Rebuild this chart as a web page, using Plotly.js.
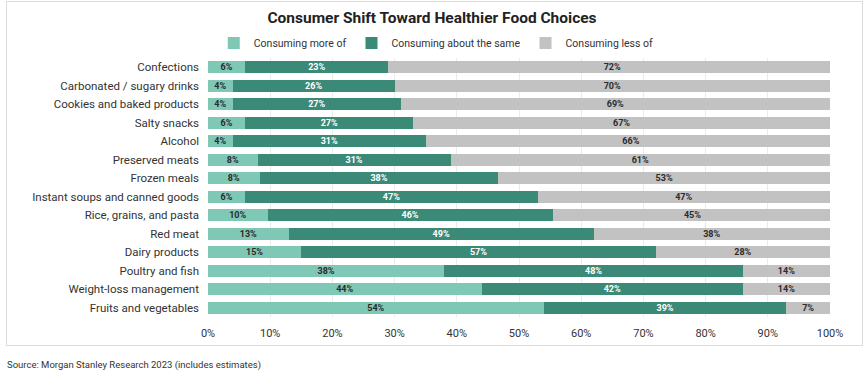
<!DOCTYPE html>
<html>
<head>
<meta charset="utf-8">
<script src="https://cdn.plot.ly/plotly-3.0.1.min.js"></script>
<style>
  html, body { margin: 0; padding: 0; background: #fff; }
  #wrap { position: relative; width: 864px; height: 376px; }
  #chart { position: absolute; left: 0; top: 0; width: 864px; height: 376px; }
  #frame { position: absolute; left: 6px; top: 1px; width: 855px; height: 343px; border: 1px solid #dcdcdc; pointer-events: none; }
</style>
</head>
<body>
<div id="wrap">
  <div id="frame"></div>
  <div id="chart"></div>
</div>
<script>
const categories = [
  "Confections",
  "Carbonated / sugary drinks",
  "Cookies and baked products",
  "Salty snacks",
  "Alcohol",
  "Preserved meats",
  "Frozen meals",
  "Instant soups and canned goods",
  "Rice, grains, and pasta",
  "Red meat",
  "Dairy products",
  "Poultry and fish",
  "Weight-loss management",
  "Fruits and vegetables"
];
const moreOf = [6, 4, 4, 6, 4, 8, 8.3, 6, 9.6, 13, 15, 38, 44, 54];
const aboutSame = [23, 26, 27, 27, 31, 31, 38.4, 47, 45.8, 49, 57, 48, 42, 39];
const lessOf = [72, 70, 69, 67, 66, 61, 53.3, 47, 45, 38, 28, 14, 14, 7];
const seriesNames = ["Consuming more of", "Consuming about the same", "Consuming less of"];
const xTicks = [0, 10, 20, 30, 40, 50, 60, 70, 80, 90, 100];

const colors = ["#80c8b6", "#3a8a77", "#c2c2c2"];
const textColors = ["#2b2b2b", "#ffffff", "#2b2b2b"];
const allSeries = [moreOf, aboutSame, lessOf];

const traces = allSeries.map((vals, i) => ({
  type: "bar",
  orientation: "h",
  name: seriesNames[i],
  y: categories,
  x: vals,
  texttemplate: "%{x:.0f}%",
  textposition: "inside",
  insidetextanchor: "middle",
  textangle: 0,
  constraintext: "none",
  insidetextfont: { family: "Roboto, sans-serif", size: 9, color: textColors[i], weight: "bold" },
  marker: { color: colors[i], line: { width: 0 } },
  hoverinfo: "skip"
}));

const layout = {
  width: 864,
  height: 376,
  barmode: "stack",
  bargap: 0.33,
  uniformtext: { mode: "show", minsize: 9 },
  paper_bgcolor: "rgba(0,0,0,0)",
  plot_bgcolor: "rgba(0,0,0,0)",
  margin: { l: 208, r: 34, t: 58, b: 59 },
  font: { family: "Roboto, sans-serif", color: "#333" },
  title: {
    text: "<b>Consumer Shift Toward Healthier Food Choices</b>",
    font: { family: "Roboto, sans-serif", size: 15.5, color: "#222" },
    x: 0.5, xref: "container", xanchor: "center",
    y: 1 - 18 / 376, yref: "container", yanchor: "middle"
  },
  showlegend: true,
  legend: {
    orientation: "h",
    x: 0.367, xanchor: "center",
    y: 1 + 15 / 259, yanchor: "middle",
    font: { family: "Roboto, sans-serif", size: 10.5, color: "#333" },
    itemwidth: 30,
    itemsizing: "constant",
    traceorder: "normal",
    bgcolor: "rgba(0,0,0,0)"
  },
  xaxis: {
    range: [0, 100],
    tickvals: xTicks,
    ticktext: xTicks.map(v => v + "%"),
    showgrid: true,
    gridcolor: "#ebebeb",
    gridwidth: 1,
    zeroline: false,
    showline: false,
    ticks: "",
    ticklabelstandoff: 8,
    tickfont: { family: "Roboto, sans-serif", size: 11, color: "#333" },
    fixedrange: true
  },
  yaxis: {
    type: "category",
    autorange: "reversed",
    showgrid: false,
    zeroline: false,
    showline: false,
    ticks: "",
    ticklabelstandoff: 8,
    tickfont: { family: "Roboto, sans-serif", size: 11.5, color: "#333" },
    fixedrange: true
  },
  annotations: [{
    text: "Source: Morgan Stanley Research 2023 (includes estimates)",
    xref: "paper", yref: "paper",
    x: (5 - 208) / 622, xanchor: "left",
    y: -48 / 259, yanchor: "middle",
    showarrow: false,
    font: { family: "Roboto, sans-serif", size: 9.5, color: "#333" }
  }]
};

Plotly.newPlot("chart", traces, layout, { displayModeBar: false, staticPlot: true });
</script>
</body>
</html>
